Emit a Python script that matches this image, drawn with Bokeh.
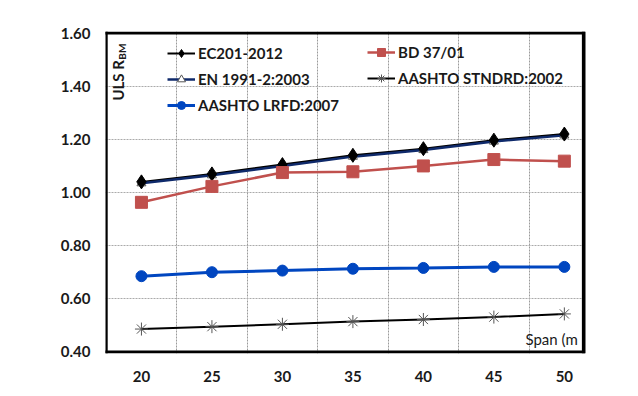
import math
from bokeh.plotting import figure
from bokeh.models import (Legend, LegendItem, FixedTicker, Label,
                          NumeralTickFormatter)
from bokeh.embed import file_html
from bokeh.resources import INLINE

spans = [20, 25, 30, 35, 40, 45, 50]
ec201 = [1.04, 1.07, 1.105, 1.14, 1.165, 1.197, 1.22]
en1991 = [1.035, 1.065, 1.10, 1.135, 1.16, 1.192, 1.215]
bd3701 = [0.963, 1.023, 1.075, 1.078, 1.10, 1.124, 1.118]
lrfd = [0.685, 0.70, 0.706, 0.713, 0.716, 0.72, 0.72]
stndrd = [0.486, 0.495, 0.504, 0.514, 0.522, 0.531, 0.543]

y_ticks = [0.4, 0.6, 0.8, 1.0, 1.2, 1.4, 1.6]
x_grid = [22.5, 27.5, 32.5, 37.5, 42.5, 47.5]

FONT = "Lato"
X0, X1 = 17.45, 51.5
Y0, Y1 = 0.394, 1.606

p = figure(width=630, height=388, x_range=(X0, X1), y_range=(Y0, Y1),
           output_backend="svg", toolbar_location=None,
           min_border_left=105, min_border_right=45, min_border_top=31,
           min_border_bottom=35)
p.background_fill_color = "white"
p.border_fill_color = "white"
p.outline_line_color = None

for ax in (p.xaxis[0], p.yaxis[0]):
    ax.axis_line_color = None
    ax.major_tick_line_color = None
    ax.minor_tick_line_color = None
    ax.major_tick_out = 0
    ax.major_tick_in = 0
    ax.minor_tick_out = 0
    ax.minor_tick_in = 0
    ax.major_label_text_font = FONT
    ax.major_label_text_font_style = "bold"
    ax.major_label_text_font_size = "15px"
    ax.major_label_text_color = "#1a1a1a"

p.xaxis.ticker = FixedTicker(ticks=spans)
p.xaxis.major_label_standoff = 17
p.yaxis.ticker = FixedTicker(ticks=y_ticks)
p.yaxis.formatter = NumeralTickFormatter(format="0.00")
p.yaxis.major_label_standoff = 15

p.xgrid.ticker = FixedTicker(ticks=x_grid)
p.xgrid.grid_line_color = "#9a9a9a"
p.xgrid.grid_line_dash = "2 1"
p.ygrid.ticker = FixedTicker(ticks=[0.6, 0.8, 1.0, 1.2, 1.4])
p.ygrid.grid_line_color = "#aaaaaa"
p.ygrid.grid_line_dash = "2 1"

# frame border as thin filled bars along the chart's outer values
xl = spans[0] - 2.5
xr = spans[-1] + 1.35
yb = y_ticks[0]
yt = y_ticks[-1]
wx = 3 / 14.1
wy = 3 / 265.7
p.quad(left=[xl - wx / 2, xl - wx / 2, xl - wx / 2, xr - wx / 2],
       right=[xl + wx / 2, xr + wx / 2, xr + wx / 2, xr + 1.5 * wx],
       bottom=[yb - wy / 2, yt - wy / 2, yb - wy / 2, yb - wy / 2],
       top=[yt + wy / 2, yt + wy / 2, yb + wy / 2, yt + wy / 2],
       fill_color="black", line_color=None)

# series
r_ec_line = p.line(spans, ec201, line_color="black", line_width=2)
r_en_line = p.line(spans, en1991, line_color="#0f2a6b", line_width=2.5)
r_en_pts = p.scatter(spans, en1991, marker="triangle", size=9,
                     fill_color="white", line_color="#555555", line_width=1)
r_ec_pts = p.scatter(spans, ec201, marker="diamond", size=14,
                     fill_color="black", line_color="black")

r_bd_line = p.line(spans, bd3701, line_color="#c0504d", line_width=2.5)
r_bd_pts = p.scatter(spans, bd3701, marker="square", size=12,
                     fill_color="#c0504d", line_color="#c0504d")

r_lr_line = p.line(spans, lrfd, line_color="#0046c0", line_width=3)
r_lr_pts = p.scatter(spans, lrfd, marker="circle", size=11,
                     fill_color="#0046c0", line_color="#0046c0")

r_st_line = p.line(spans, stndrd, line_color="black", line_width=2)
r_st_pts = p.scatter(spans, stndrd, marker="asterisk", size=13,
                     line_color="#555555", line_width=1)

common = dict(glyph_width=28, glyph_height=20, label_height=20, spacing=6,
              padding=0, margin=0, border_line_color=None,
              background_fill_alpha=0, label_standoff=3,
              label_text_font=FONT, label_text_font_style="bold",
              label_text_font_size="15px", label_text_color="#1a1a1a")

leg1 = Legend(items=[
    LegendItem(label="EC201-2012", renderers=[r_ec_line, r_ec_pts]),
    LegendItem(label="EN 1991-2:2003", renderers=[r_en_line, r_en_pts]),
    LegendItem(label="AASHTO LRFD:2007", renderers=[r_lr_line, r_lr_pts]),
], location=(62, 238), **common)
leg2 = Legend(items=[
    LegendItem(label="BD 37/01", renderers=[r_bd_line, r_bd_pts]),
    LegendItem(label="AASHTO STNDRD:2002", renderers=[r_st_line, r_st_pts]),
], location=(262, 265), **common)
p.add_layout(leg1)
p.add_layout(leg2)

# in-plot axis titles
p.add_layout(Label(x=18.37, y=1.346, text="ULS R", angle=math.pi / 2,
                   text_font=FONT, text_font_style="bold",
                   text_font_size="15px", text_baseline="middle",
                   text_align="left", text_color="#1a1a1a"))
p.add_layout(Label(x=18.62, y=1.50, text="BM", angle=math.pi / 2,
                   text_font=FONT, text_font_style="bold",
                   text_font_size="10px", text_baseline="middle",
                   text_align="left", text_color="#1a1a1a"))
p.add_layout(Label(x=47.24, y=0.447, text="Span (m",
                   text_font=FONT, text_font_style="normal",
                   text_font_size="15px", text_baseline="middle",
                   text_align="left", text_color="#1a1a1a"))

open("out.html", "w").write(file_html(p, INLINE))
